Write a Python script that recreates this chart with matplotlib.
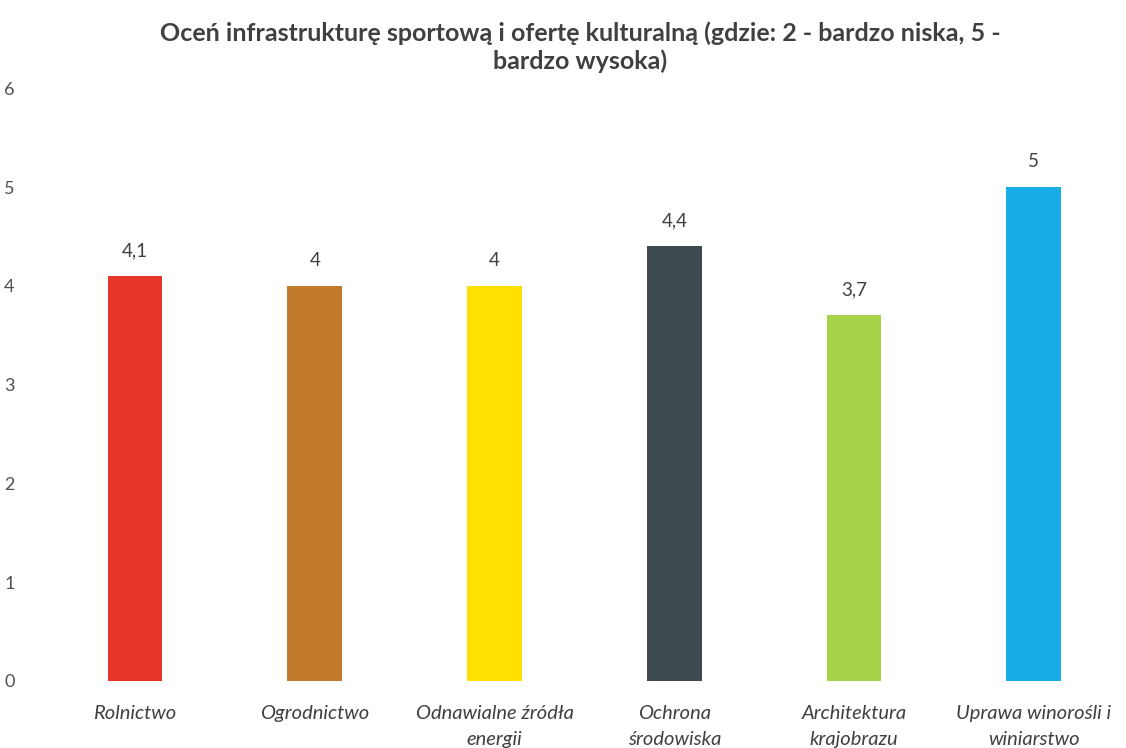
import matplotlib.pyplot as plt

categories = ["Rolnictwo", "Ogrodnictwo", "Odnawialne źródła\nenergii", "Ochrona\nśrodowiska",
              "Architektura\nkrajobrazu", "Uprawa winorośli i\nwiniarstwo"]
values = [4.1, 4.0, 4.0, 4.4, 3.7, 5.0]
value_labels = ["4,1", "4", "4", "4,4", "3,7", "5"]
colors = ["#e8352c", "#c27a2c", "#ffe100", "#3f4950", "#a6d34a", "#19ade6"]
yticks = [0, 1, 2, 3, 4, 5, 6]

plt.rcParams['font.family'] = ['Lato', 'DejaVu Sans']

fig = plt.figure(figsize=(11.26, 7.48), dpi=100)
ax = fig.add_axes([0.04, 0.0896, 0.958, 0.7924])

x = range(len(categories))
ax.bar(x, values, width=0.305, color=colors)

for i, v in enumerate(values):
    ax.text(i, v + 0.17, value_labels[i], ha="center", va="bottom", fontsize=13.5, color="#404040")

ax.set_xlim(-0.5, len(categories) - 0.5)
ax.set_ylim(0, 6)
ax.set_yticks(yticks)
ax.set_yticklabels([str(t) for t in yticks], fontsize=13, color="#505050")
ax.set_xticks(list(x))
ax.set_xticklabels(categories, fontsize=14.5, style="italic", color="#404040", linespacing=1.65)
ax.tick_params(axis="both", length=0)
ax.tick_params(axis="x", pad=17)
ax.tick_params(axis="y", pad=22)
for s in ax.spines.values():
    s.set_visible(False)

fig.text(0.515, 0.937, "Oceń infrastrukturę sportową i ofertę kulturalną (gdzie: 2 - bardzo niska, 5 -\nbardzo wysoka)",
         ha="center", va="center", fontsize=18, fontweight="bold", color="#404040", linespacing=1.25)

fig.savefig("out.png", dpi=100)
